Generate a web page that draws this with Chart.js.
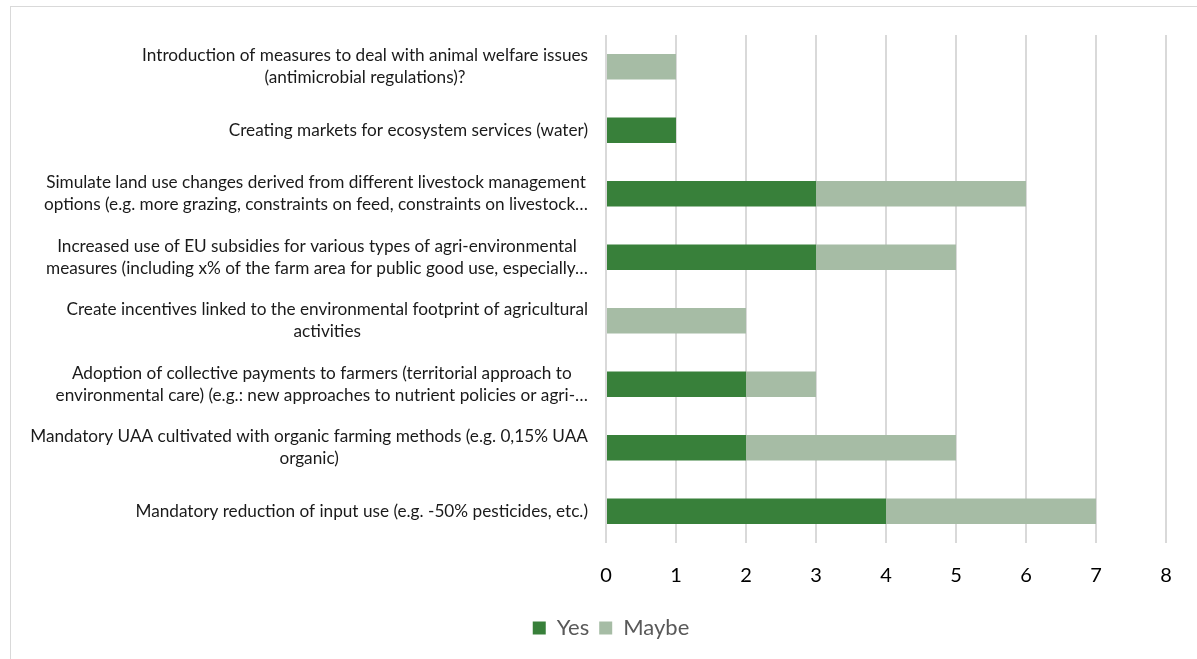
<!DOCTYPE html>
<html>
<head>
<meta charset="utf-8">
<script src="https://cdn.jsdelivr.net/npm/chart.js@4.4.1/dist/chart.umd.min.js"></script>
<style>
  html, body { margin: 0; padding: 0; background: #fff; overflow: hidden; }
  #frame {
    position: absolute; left: 10px; top: 6px;
    width: 1210px; height: 700px;
    border: 1px solid #d9d9d9;
  }
  #chart { position: absolute; left: 0; top: 0; }
</style>
</head>
<body>
<div id="frame"></div>
<canvas id="chart" width="1197" height="659"></canvas>
<script>
// categories, top to bottom, already wrapped the way the picture shows them
const categories = [
  ["Introduction of measures to deal with animal welfare issues", "(antimicrobial regulations)?"],
  ["Creating markets for ecosystem services (water)"],
  ["Simulate land use changes derived from different livestock management", "options (e.g. more grazing, constraints on feed, constraints on livestock\u2026"],
  ["Increased use of EU subsidies for various types of agri-environmental", "measures (including x% of the farm area for public good use, especially\u2026"],
  ["Create incentives linked to the environmental footprint of agricultural", "activities"],
  ["Adoption of collective payments to farmers (territorial approach to", "environmental care) (e.g.: new approaches to nutrient policies or agri-\u2026"],
  ["Mandatory UAA cultivated with organic farming methods (e.g. 0,15% UAA", "organic)"],
  ["Mandatory reduction of input use (e.g. -50% pesticides, etc.)"]
];

const yesValues = [0, 1, 3, 3, 0, 2, 2, 4];
const maybeValues = [1, 0, 3, 2, 2, 1, 3, 3];

const xTicks = [0, 1, 2, 3, 4, 5, 6, 7, 8];

const labelFont = "17.2px Lato";
const labelRight = 588;
const lineGap = 22;

// y labels: block right aligned, lines centered inside the block
const centeredLabels = {
  id: "centeredLabels",
  afterDraw(chart) {
    const ctx = chart.ctx;
    const yScale = chart.scales.y;
    ctx.save();
    ctx.font = labelFont;
    ctx.fillStyle = "#1a1a1a";
    ctx.textAlign = "center";
    ctx.textBaseline = "middle";
    categories.forEach((lines, i) => {
      let maxW = 0;
      lines.forEach((l) => {
        maxW = Math.max(maxW, ctx.measureText(l).width);
      });
      let cx = labelRight - maxW / 2;
      let cy = yScale.getPixelForValue(i);
      let top = cy - ((lines.length - 1) * lineGap) / 2;
      lines.forEach((l, j) => {
        ctx.fillText(l, cx, top + j * lineGap);
      });
    });
    ctx.restore();
  },
};

new Chart(document.querySelector("#chart"), {
  type: "bar",
  data: {
    labels: categories.map((c) => c.join(" ")),
    datasets: [
      {
        label: "Yes",
        data: yesValues,
        backgroundColor: "#38803a",
        categoryPercentage: 1,
        barPercentage: 0.4,
      },
      {
        label: "Maybe",
        data: maybeValues,
        backgroundColor: "#a6bca5",
        categoryPercentage: 1,
        barPercentage: 0.4,
      },
    ],
  },
  options: {
    indexAxis: "y",
    responsive: false,
    animation: false,
    layout: {
      padding: { top: 35, right: 31, bottom: 10, left: 56 },
    },
    plugins: {
      legend: {
        position: "bottom",
        labels: {
          boxWidth: 13,
          boxHeight: 13,
          padding: 10,
          color: "#595959",
          font: { family: "Lato", size: 22 },
        },
      },
      tooltip: { enabled: false },
    },
    scales: {
      x: {
        stacked: true,
        min: xTicks[0],
        max: xTicks[xTicks.length - 1],
        afterBuildTicks: (scale) => {
          scale.ticks = xTicks.map((v) => ({ value: v }));
        },
        afterFit: (scale) => {
          scale.height = 64;
        },
        ticks: {
          padding: 21,
          color: "#000",
          font: { family: "Lato", size: 20 },
        },
        grid: {
          color: "#d9d9d9",
          lineWidth: 2,
          drawTicks: false,
        },
        border: { display: false },
      },
      y: {
        stacked: true,
        afterFit: (scale) => {
          scale.width = 550;
        },
        ticks: { display: false },
        grid: { display: false },
        border: { display: false },
      },
    },
  },
  plugins: [centeredLabels],
});
</script>
</body>
</html>
